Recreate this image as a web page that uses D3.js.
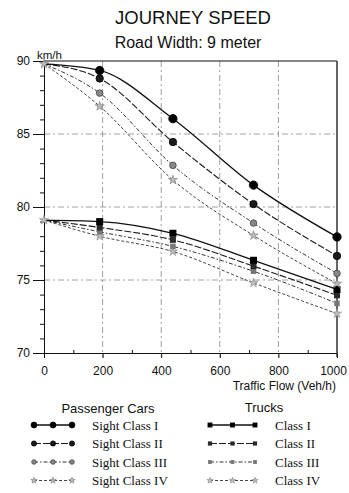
<!DOCTYPE html>
<html>
<head>
<meta charset="utf-8">
<script src="https://cdn.jsdelivr.net/npm/d3@7/dist/d3.min.js"></script>
<style>
  body { margin: 0; background: #fff; }
  svg { display: block; }
  .sans { font-family: "Liberation Sans", Arial, sans-serif; fill: #111; }
  .serif { font-family: "Liberation Serif", "DejaVu Serif", serif; fill: #111; }
</style>
</head>
<body>
<div id="chart"></div>
<script>
// traffic flow (veh/h) where the markers sit
const flows = [0, 190, 440, 715, 1000];

// passenger cars, journey speed km/h
const carI   = [89.8, 89.35, 86.05, 81.5, 77.95];
const carII  = [89.8, 88.8, 84.45, 80.2, 76.65];
const carIII = [89.8, 87.8, 82.85, 78.9, 75.45];
const carIV  = [89.8, 86.9, 81.85, 78.05, 74.75];

// trucks
const truckI   = [79.1, 79.0, 78.2, 76.35, 74.35];
const truckII  = [79.1, 78.6, 77.75, 75.95, 73.95];
const truckIII = [79.1, 78.3, 77.3, 75.6, 73.4];
const truckIV  = [79.1, 78.0, 76.95, 74.8, 72.7];

const xTicks = [0, 200, 400, 600, 800, 1000];
const yTicks = [70, 75, 80, 85, 90];
const carLabels = ["Sight Class I", "Sight Class II", "Sight Class III", "Sight Class IV"];
const truckLabels = ["Class I", "Class II", "Class III", "Class IV"];

const width = 349, height = 493;
const margin = { top: 61, right: 12, bottom: 140, left: 44 };

const svg = d3.select("#chart").append("svg")
  .attr("width", width)
  .attr("height", height);

const x = d3.scaleLinear().domain([0, 1000]).range([margin.left, 337]);
const y = d3.scaleLinear().domain([70, 90]).range([353, margin.top]);

// line styles per class (index 0..3)
const styles = [
  { dash: null, color: "#111", w: 1.3 },
  { dash: "7,2", color: "#1a1a1a", w: 1.1 },
  { dash: "4,2,1.5,2", color: "#333", w: 1 },
  { dash: "3,2", color: "#444", w: 1 }
];

// titles
svg.append("text").attr("class", "sans")
  .attr("x", 193).attr("y", 24).attr("text-anchor", "middle")
  .style("font-size", "18.5px").text("JOURNEY SPEED");
svg.append("text").attr("class", "sans")
  .attr("x", 188).attr("y", 48).attr("text-anchor", "middle")
  .style("font-size", "16px").text("Road Width: 9 meter");

// grid
const grid = svg.append("g").attr("stroke", "#888").attr("stroke-width", 0.8)
  .attr("stroke-dasharray", "6,3,2,3");
grid.selectAll("line.v").data(xTicks.slice(1, -1)).join("line")
  .attr("x1", d => x(d)).attr("x2", d => x(d))
  .attr("y1", y(90)).attr("y2", y(70) + 4);
grid.selectAll("line.h").data(yTicks.slice(1, -1)).join("line")
  .attr("x1", x(0)).attr("x2", x(1000))
  .attr("y1", d => y(d)).attr("y2", d => y(d));

// axes
const yAxis = svg.append("g").attr("transform", `translate(${x(0)},0)`)
  .call(d3.axisLeft(y).tickValues(yTicks).tickSize(11).tickPadding(3).tickFormat(d3.format("d")));
svg.append("g").attr("transform", `translate(${x(0)},0)`)
  .call(d3.axisLeft(y).tickValues(d3.range(70, 91, 1)).tickSize(4).tickFormat(""))
  .call(g => g.select(".domain").remove());
const xAxis = svg.append("g").attr("transform", `translate(0,${y(70)})`)
  .call(d3.axisBottom(x).tickValues(xTicks).tickSize(5).tickPadding(8).tickFormat(d3.format("d")));
svg.append("g").attr("transform", `translate(0,${y(70)})`)
  .call(d3.axisTop(x).tickValues(d3.range(100, 1000, 200)).tickSize(3).tickFormat(""))
  .call(g => g.select(".domain").remove());
[yAxis, xAxis].forEach(g => {
  g.selectAll("text").attr("class", "sans").style("font-size", "12px").attr("fill", "#111");
  g.selectAll("path,line").attr("stroke", "#111");
});
xAxis.selectAll(".tick text").filter(d => d === 1000).attr("dx", -4);
svg.selectAll(".tick line").attr("stroke", "#111");

// top and right frame
svg.append("line").attr("x1", x(0)).attr("x2", x(1000)).attr("y1", y(90)).attr("y2", y(90))
  .attr("stroke", "#111").attr("stroke-width", 1.2);
svg.append("line").attr("x1", x(1000)).attr("x2", x(1000)).attr("y1", y(90)).attr("y2", y(70) + 4)
  .attr("stroke", "#333").attr("stroke-width", 1.5);

svg.append("text").attr("class", "sans").attr("x", 37).attr("y", 59)
  .style("font-size", "11.5px").text("km/h");
svg.append("text").attr("class", "sans").attr("x", 336).attr("y", 390)
  .attr("text-anchor", "end").style("font-size", "12px").text("Traffic Flow (Veh/h)");

// markers (k scales them down for the legend)
function marker(g, kind, cls, cx, cy, k = 1) {
  if (cls === 3) {
    g.append("path").attr("d", d3.symbol(d3.symbolStar, 26 * k * k)())
      .attr("transform", `translate(${cx},${cy})`)
      .attr("fill", "#bbb").attr("stroke", kind === "car" ? "#777" : "#888").attr("stroke-width", 0.6);
  } else if (kind === "car") {
    const r = [4.2, 3.7, 3.3][cls] * k;
    const fill = ["#000", "#1a1a1a", "#888"][cls];
    g.append("circle").attr("cx", cx).attr("cy", cy).attr("r", r)
      .attr("fill", fill).attr("stroke", cls === 2 ? "#444" : "#000").attr("stroke-width", 0.8);
  } else {
    const s = [7, 6, 5.5][cls] * k;
    const fill = ["#000", "#2a2a2a", "#777"][cls];
    g.append("rect").attr("x", cx - s / 2).attr("y", cy - s / 2)
      .attr("width", s).attr("height", s).attr("fill", fill);
  }
}

const line = d3.line().x(d => x(d[0])).y(d => y(d[1])).curve(d3.curveMonotoneX);

const series = [
  { kind: "truck", vals: [truckIV, truckIII, truckII, truckI], cls: [3, 2, 1, 0] },
  { kind: "car", vals: [carIV, carIII, carII, carI], cls: [3, 2, 1, 0] }
];

const plot = svg.append("g");
series.forEach(s => {
  s.vals.forEach((v, i) => {
    const st = styles[s.cls[i]];
    const pts = flows.map((f, j) => [f, v[j]]);
    plot.append("path").datum(pts)
      .attr("fill", "none").attr("stroke", st.color).attr("stroke-width", st.w)
      .attr("stroke-dasharray", st.dash).attr("d", line);
  });
});
series.forEach(s => {
  s.vals.forEach((v, i) => {
    flows.forEach((f, j) => {
      if (j === 0 && s.cls[i] !== 3) return;
      marker(plot, s.kind, s.cls[i], x(f), y(v[j]));
    });
  });
});

// legend
function legend(title, tx, ty, kind, labels, x0, x1, lx) {
  const g = svg.append("g");
  g.append("text").attr("class", "sans").attr("x", tx).attr("y", ty)
    .attr("text-anchor", "middle").style("font-size", "13px").text(title);
  labels.forEach((lab, i) => {
    const yy = 425 + i * 18.5;
    const st = styles[i];
    g.append("line").attr("x1", x0).attr("x2", x1).attr("y1", yy).attr("y2", yy)
      .attr("stroke", st.color).attr("stroke-width", st.w).attr("stroke-dasharray", st.dash);
    [x0, (x0 + x1) / 2, x1].forEach(px => marker(g, kind, i, px, yy, 0.7));
    g.append("text").attr("class", "serif").attr("x", lx).attr("y", yy + 4.5)
      .style("font-size", "13px").text(lab);
  });
}
legend("Passenger Cars", 108, 413, "car", carLabels, 34, 72, 92);
legend("Trucks", 264, 412, "truck", truckLabels, 210, 255, 275);
</script>
</body>
</html>
